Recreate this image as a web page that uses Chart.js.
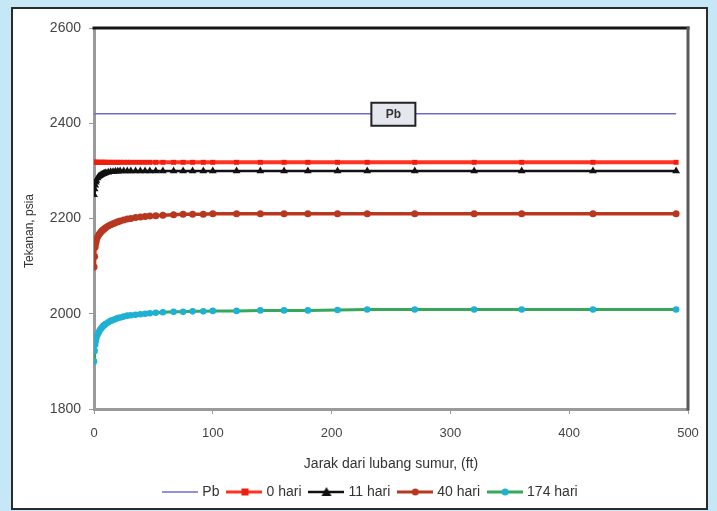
<!DOCTYPE html>
<html>
<head>
<meta charset="utf-8">
<script src="https://cdn.jsdelivr.net/npm/chart.js@4.4.1/dist/chart.umd.min.js"></script>
<style>
html,body{margin:0;padding:0;width:717px;height:511px;overflow:hidden;background:#c6e7f6;}
#frame{position:absolute;left:11px;top:7px;width:697px;height:503px;background:#ffffff;border:2px solid #2b2b2b;box-sizing:border-box;}
#wrap{position:absolute;left:0;top:0;width:717px;height:511px;}
</style>
</head>
<body>
<div id="frame"></div>
<div id="wrap"><canvas id="c" width="717" height="511"></canvas></div>
<script>
// ---- data ----
const distance = [0, 0.5, 1, 1.5, 2, 3, 4, 5, 6, 7, 8, 9, 10, 12, 14, 16, 18, 20, 22, 25, 28, 31, 35, 39, 43, 47, 52, 58, 67, 75, 83, 92, 100, 120, 140, 160, 180, 205, 230, 270, 320, 360, 420, 490];
const pbDistance = [0, 490];
const pb = [2420, 2420];
const hari0 = [2318,2318,2318,2318,2318,2318,2318,2318,2318,2318, 2318,2318,2318,2318,2318,2318,2318,2318,2318,2318, 2318,2318,2318,2318,2318,2318,2318,2318,2318,2318, 2318,2318,2318,2318,2318,2318,2318,2318,2318,2318, 2318,2318,2318,2318];
const hari11 = [2250,2262,2270,2276,2280,2285,2288,2290,2292,2293, 2294,2295,2296,2297,2298,2298,2299,2299,2300,2300, 2300,2300,2300,2300,2300,2300,2300,2300,2300,2300, 2300,2300,2300,2300,2300,2300,2300,2300,2300,2300, 2300,2300,2300,2300];
const hari40 = [2098,2120,2140,2148,2154,2161,2166,2169,2172,2175, 2177,2179,2181,2184,2187,2189,2191,2193,2195,2197, 2199,2200,2202,2203,2204,2205,2206,2207,2208,2209, 2209,2209,2210,2210,2210,2210,2210,2210,2210,2210, 2210,2210,2210,2210];
const hari174 = [1900,1922,1935,1943,1949,1956,1961,1966,1969,1972, 1975,1977,1979,1982,1985,1987,1989,1991,1992,1994, 1996,1997,1998,1999,2000,2001,2002,2003,2004,2004, 2005,2005,2006,2006,2007,2007,2007,2008,2009,2009, 2009,2009,2009,2009];
const seriesNames = ['Pb', '0 hari', '11 hari', '40 hari', '174 hari'];
const xTicks = [0, 100, 200, 300, 400, 500];
const yTicks = [1800, 2000, 2200, 2400, 2600];
const xTitle = 'Jarak dari lubang sumur, (ft)';
const yTitle = 'Tekanan, psia';
const pbLabel = 'Pb';

function pts(xs, ys){ return xs.map((x,i)=>({x:x, y:ys[i]})); }

function icon(line, lw, mark, shape){
  const c = document.createElement('canvas');
  c.width = 36; c.height = 12;
  const g = c.getContext('2d');
  g.strokeStyle = line; g.lineWidth = lw;
  g.beginPath(); g.moveTo(0,6); g.lineTo(36,6); g.stroke();
  g.fillStyle = mark;
  if (shape === 'rect'){ g.fillRect(15,2.5,7,7); }
  else if (shape === 'triangle'){ g.beginPath(); g.moveTo(18,1); g.lineTo(23,10); g.lineTo(13,10); g.closePath(); g.fill(); }
  else if (shape === 'circle'){ g.beginPath(); g.arc(18,6,3.5,0,Math.PI*2); g.fill(); }
  return c;
}

const styles = [
  {line:'#6c6cd2', lw:1.6, mark:'#6c6cd2', shape:null, r:0},
  {line:'#ff3322', lw:4, mark:'#f01e10', shape:'rect', r:3.5},
  {line:'#111111', lw:2.5, mark:'#111111', shape:'triangle', r:4.5},
  {line:'#b8381f', lw:3.5, mark:'#b8381f', shape:'circle', r:3.5},
  {line:'#35a85a', lw:3, mark:'#1fb0d2', shape:'circle', r:3.3}
];

const dataSets = [pts(pbDistance,pb), pts(distance,hari0), pts(distance,hari11), pts(distance,hari40), pts(distance,hari174)];

const datasets = dataSets.map((d,i)=>({
  label: seriesNames[i],
  data: d,
  borderColor: styles[i].line,
  backgroundColor: styles[i].mark,
  borderWidth: styles[i].lw,
  pointRadius: styles[i].r,
  pointHoverRadius: styles[i].r,
  pointStyle: styles[i].shape ? styles[i].shape : false,
  pointBackgroundColor: styles[i].mark,
  pointBorderColor: styles[i].mark,
  pointBorderWidth: 0,
  tension: 0,
  order: 5 - i
}));

const frameLines = {
  id:'frameLines',
  afterDraw(chart){
    const {ctx, chartArea:a} = chart;
    ctx.save();
    ctx.lineCap = 'square';
    ctx.strokeStyle = '#151515'; ctx.lineWidth = 3;
    ctx.beginPath(); ctx.moveTo(a.left, a.top); ctx.lineTo(a.right, a.top); ctx.stroke();
    ctx.strokeStyle = '#5a5a5a'; ctx.lineWidth = 3;
    ctx.beginPath(); ctx.moveTo(a.right, a.top); ctx.lineTo(a.right, a.bottom); ctx.stroke();
    ctx.restore();
  }
};

const pbBox = {
  id:'pbBox',
  afterDatasetsDraw(chart){
    const {ctx, scales:{x,y}} = chart;
    const cx = x.getPixelForValue(252), cy = y.getPixelForValue(pb[0]);
    ctx.save();
    ctx.fillStyle = '#e4e8ee';
    ctx.strokeStyle = '#222';
    ctx.lineWidth = 2;
    ctx.beginPath(); ctx.rect(cx-22, cy-11, 44, 23); ctx.fill(); ctx.stroke();
    ctx.fillStyle = '#333';
    ctx.font = 'bold 12px "Liberation Sans", Arial, sans-serif';
    ctx.textAlign = 'center'; ctx.textBaseline = 'middle';
    ctx.fillText(pbLabel, cx, cy+1);
    ctx.restore();
  }
};

const yTitlePlugin = {
  id:'yTitle',
  afterDraw(chart){
    const ctx = chart.ctx;
    ctx.save();
    ctx.translate(30, 231);
    ctx.rotate(-Math.PI/2);
    ctx.fillStyle = '#333';
    ctx.font = '12px "Liberation Sans", Arial, sans-serif';
    ctx.textAlign = 'center'; ctx.textBaseline = 'middle';
    ctx.fillText(yTitle, 0, 0);
    ctx.restore();
  }
};

// move the legend so it is centred under the plot like in the reference
const legendShift = {
  id:'legendShift',
  afterLayout(chart){
    const l = chart.legend;
    if (l){ l.left += 16; l.right += 16; }
  }
};

const fam = '"Liberation Sans", Arial, sans-serif';

new Chart(document.getElementById('c'), {
  type:'line',
  data:{datasets},
  plugins:[frameLines, pbBox, yTitlePlugin, legendShift],
  options:{
    responsive:false,
    devicePixelRatio:1,
    animation:false,
    layout:{padding:{left:23, right:29, top:28, bottom:2}},
    plugins:{
      tooltip:{enabled:false},
      legend:{
        position:'bottom',
        labels:{
          usePointStyle:true,
          pointStyleWidth:30,
          padding:10,
          color:'#333',
          font:{family:fam, size:14},
          generateLabels(chart){
            return chart.data.datasets.map((ds,i)=>({
              text: ds.label,
              pointStyle: icon(styles[i].line, Math.min(styles[i].lw,3), styles[i].mark, styles[i].shape),
              fillStyle:'transparent', strokeStyle:'transparent', lineWidth:0,
              hidden:false, datasetIndex:i, fontColor:'#333'
            }));
          }
        }
      }
    },
    scales:{
      x:{
        type:'linear', min:0, max:500,
        afterBuildTicks(s){ s.ticks = xTicks.map(v=>({value:v})); },
        afterFit(s){ s.height = 66; },
        ticks:{color:'#444', font:{family:fam, size:13}, padding:12, maxRotation:0, callback:v=>String(v)},
        grid:{drawOnChartArea:false, drawTicks:true, tickLength:5, color:'#9a9a9a', lineWidth:1},
        border:{display:true, color:'#9a9a9a', width:3},
        title:{display:true, text:xTitle, color:'#333', font:{family:fam, size:14}, padding:{top:0,bottom:2}}
      },
      y:{
        type:'linear', min:1800, max:2600,
        afterBuildTicks(s){ s.ticks = yTicks.map(v=>({value:v})); },
        afterFit(s){ s.width = 71; },
        ticks:{color:'#444', font:{family:fam, size:14}, padding:8, callback:v=>String(v)},
        grid:{drawOnChartArea:false, drawTicks:true, tickLength:5, color:'#9a9a9a', lineWidth:1},
        border:{display:true, color:'#9a9a9a', width:3}
      }
    }
  }
});
</script>
</body>
</html>
